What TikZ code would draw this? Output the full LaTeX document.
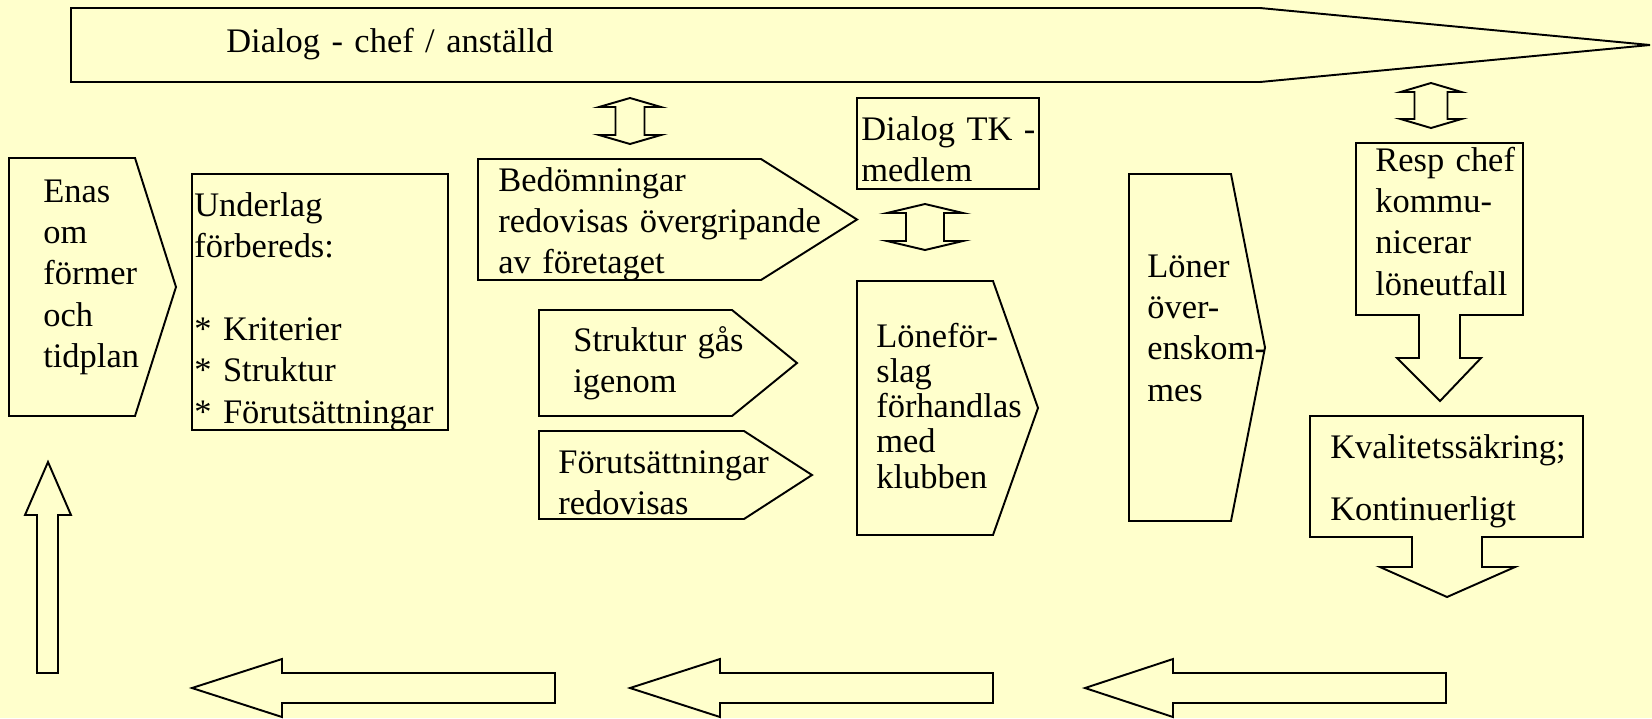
\documentclass[tikz,border=0pt]{standalone}
\usepackage{fontspec}
\setmainfont{Liberation Serif}
\usepackage{xcolor}
\definecolor{paper}{HTML}{FFFFCC}
\definecolor{ink}{HTML}{000000}
\usepackage{tikz}

\begin{document}
\begin{tikzpicture}[x=0.02cm,y=-0.02cm,
  outline/.style={draw=ink,line width=1.1pt,fill=paper},
  thinbox/.style={draw=ink,line width=0.9pt,fill=paper},
  lbl/.style={anchor=base west,inner sep=0pt,align=left,text width=9cm,
    font=\fontsize{19.6}{23.6}\selectfont,text=ink}]
  % slide area, one unit per pixel, y downwards
  \useasboundingbox (0,0) rectangle (1652,718);
  \fill[paper] (0,0) rectangle (1652,718);
  % dialogue banner along the top
  \draw[outline] (71,8) -- (1260,8) -- (1650,45) -- (1260,82) -- (71,82) -- cycle;
  \node[lbl] (dialog) at (226,52) {Dialog - chef / anställd};
  % two-way arrows
  \foreach \cx/\t/\b/\hw/\sw in {630/98/144/31/14.5, 925/204/250/38/19, 1431/83/128/30.5/16.5} {
    \draw[outline] (\cx,\t) -- (\cx+\hw,\t+9) -- (\cx+\sw,\t+9) -- (\cx+\sw,\b-9)
      -- (\cx+\hw,\b-9) -- (\cx,\b) -- (\cx-\hw,\b-9) -- (\cx-\sw,\b-9)
      -- (\cx-\sw,\t+9) -- (\cx-\hw,\t+9) -- cycle;
  }
  % pentagon steps (left, top, right, tip, bottom)
  \foreach \l/\t/\r/\p/\b in {9/158/135/176/416, 478/159/761/857/280, 539/310/732/797/416,
      539/431/744/812/519, 857/281/993/1038/535, 1129/174/1231/1265/521} {
    \draw[outline] (\l,\t) -- (\r,\t) -- (\p,{(\t+\b)/2}) -- (\r,\b) -- (\l,\b) -- cycle;
  }
  % plain boxes
  \draw[thinbox] (192,174) rectangle (448,430);
  \draw[thinbox] (857,98) rectangle (1039,189);
  % boxes with an arrow hanging below
  \draw[outline] (1356,143) -- (1523,143) -- (1523,315) -- (1460,315) -- (1460,358)
    -- (1481,358) -- (1440,401) -- (1397,358) -- (1419,358) -- (1419,315) -- (1356,315) -- cycle;
  \draw[outline] (1310,416) -- (1583,416) -- (1583,537) -- (1482,537) -- (1482,567)
    -- (1515,567) -- (1447,597) -- (1380,567) -- (1412,567) -- (1412,537) -- (1310,537) -- cycle;
  % return path: up arrow and left arrows
  \draw[outline] (37,673) -- (37,515) -- (25,515) -- (48,462) -- (71,515) -- (58,515) -- (58,673) -- cycle;
  \foreach \tp/\bs/\rt in {192/282/555, 630/720/993, 1085/1173/1446} {
    \draw[outline] (\tp,688) -- (\bs,659) -- (\bs,673) -- (\rt,673) -- (\rt,703)
      -- (\bs,703) -- (\bs,717) -- cycle;
  }
  % texts
  \node[lbl] (enas) at (43,202) {Enas\\om\\förmer\\och\\tidplan};
  \node[lbl] (underlag) at (194,216) {Underlag\\förbereds:\\[23.6pt]{*} Kriterier\\{*} Struktur\\{*} Förutsättningar};
  \node[lbl] (bedomning) at (498,191) {Bedömningar\\redovisas övergripande\\av företaget};
  \node[lbl] (dialogtk) at (861,140) {Dialog TK -\\medlem};
  \node[lbl] (struktur) at (573,351) {Struktur gås\\igenom};
  \node[lbl] (forutsatt) at (558,473) {Förutsättningar\\redovisas};
  \node[lbl,font=\fontsize{19.6}{20.1}\selectfont] (forslag) at (876,347) {Löneför-\\slag\\förhandlas\\med\\klubben};
  \node[lbl] (loner) at (1147,277) {Löner\\över-\\enskom-\\mes};
  \node[lbl] (respchef) at (1375,171) {Resp chef\\kommu-\\nicerar\\löneutfall};
  \node[lbl] (kvalitet) at (1330,458) {Kvalitetssäkring;\\[11.7pt]Kontinuerligt};
\end{tikzpicture}
\end{document}
